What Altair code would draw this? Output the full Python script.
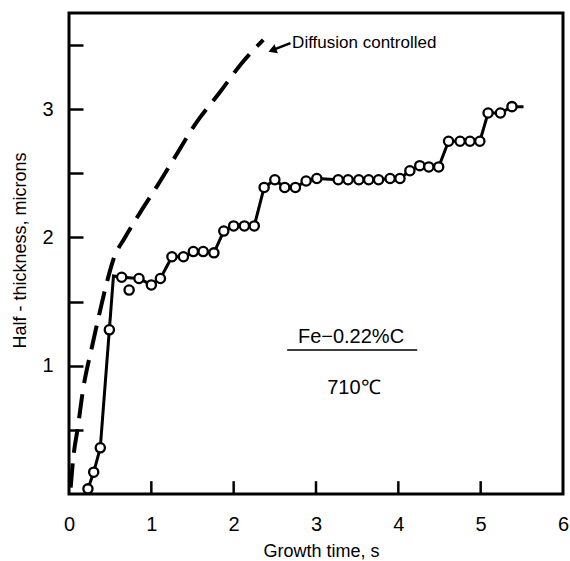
import altair as alt
import pandas as pd

# Measured points (circles)
pts_x = [0.23, 0.30, 0.38, 0.49, 0.64, 0.73, 0.85, 1.00, 1.11, 1.25, 1.39, 1.51, 1.63, 1.76,
         1.88, 2.00, 2.13, 2.25, 2.37, 2.50, 2.62, 2.75, 2.88, 3.01, 3.27, 3.39, 3.52, 3.64,
         3.76, 3.90, 4.02, 4.14, 4.26, 4.37, 4.49, 4.61, 4.75, 4.87, 4.99, 5.09, 5.24, 5.38]
pts_y = [0.04, 0.17, 0.36, 1.28, 1.69, 1.59, 1.68, 1.63, 1.68, 1.85, 1.85, 1.89, 1.89, 1.88,
         2.05, 2.09, 2.09, 2.09, 2.39, 2.45, 2.39, 2.39, 2.44, 2.46, 2.45, 2.45, 2.45, 2.45,
         2.45, 2.46, 2.46, 2.52, 2.56, 2.55, 2.55, 2.75, 2.75, 2.75, 2.75, 2.97, 2.97, 3.02]

# Solid fitted line
line_x = [0.23, 0.30, 0.38, 0.49, 0.54, 0.64, 0.85, 1.00, 1.11, 1.25, 1.39, 1.51, 1.63, 1.76,
          1.88, 2.00, 2.13, 2.25, 2.37, 2.50, 2.62, 2.75, 2.88, 3.01, 3.27, 3.39, 3.52, 3.64,
          3.76, 3.90, 4.02, 4.14, 4.26, 4.37, 4.49, 4.61, 4.75, 4.87, 4.99, 5.09, 5.24, 5.38, 5.52]
line_y = [0.04, 0.17, 0.36, 1.28, 1.70, 1.69, 1.68, 1.63, 1.68, 1.85, 1.85, 1.89, 1.89, 1.88,
          2.05, 2.09, 2.09, 2.09, 2.39, 2.45, 2.39, 2.39, 2.44, 2.46, 2.45, 2.45, 2.45, 2.45,
          2.45, 2.46, 2.46, 2.52, 2.56, 2.55, 2.55, 2.75, 2.75, 2.75, 2.75, 2.97, 2.97, 3.02, 3.02]

# Diffusion controlled (dashed) curve
dash_x = [0.02, 0.05, 0.11, 0.17, 0.28, 0.36, 0.46, 0.54, 0.68, 0.86, 1.07, 1.29, 1.53, 1.83, 2.10, 2.36]
dash_y = [0.05, 0.27, 0.53, 0.81, 1.15, 1.38, 1.65, 1.83, 2.00, 2.19, 2.40, 2.63, 2.88, 3.13, 3.36, 3.54]

# Annotations
label_text = ["Diffusion  controlled", "Fe\u22120.22%C", "710\u2103"]
label_x = [2.71, 3.425, 3.46]
label_y = [3.516, 1.224, 0.83]

y_ticks = [0.5, 1, 1.5, 2, 2.5, 3, 3.5]
x_ticks = [0, 1, 2, 3, 4, 5, 6]
x_inner_ticks = [1, 2, 3, 4, 5]

FONT = "Liberation Sans"

xs = alt.Scale(domain=[0, 6], nice=False, zero=False)
ys = alt.Scale(domain=[0, 3.75], nice=False, zero=False)

x_axis = alt.Axis(
    values=x_ticks, ticks=False, domain=False, grid=False, labelPadding=20,
    labelFontSize=20, labelFont=FONT, labelColor="black", format="d",
    labelFlush=False, labelOverlap=False,
    title="Growth  time, s", titleFont=FONT, titleFontSize=18, titleFontWeight="normal",
    titleColor="black", titleX=252, titleY=57, titleBaseline="middle", titleAlign="center",
)
y_axis = alt.Axis(
    values=y_ticks, offset=-14, tickSize=14, tickWidth=2.5, tickColor="black", ticks=True,
    domain=False, grid=False, labelPadding=16, labelFontSize=20, labelFont=FONT,
    labelColor="black", labelFlush=False, labelOverlap=False, zindex=1,
    labelExpr="datum.value % 1 == 0 ? format(datum.value, 'd') : ''",
    title="Half - thickness, microns", titleFont=FONT, titleFontSize=18,
    titleFontWeight="normal", titleColor="black", titleAngle=270,
    titleX=-63, titleY=237, titleBaseline="middle", titleAlign="center",
)

X = alt.X("x:Q", scale=xs, axis=x_axis)
Y = alt.Y("y:Q", scale=ys, axis=y_axis)

pts_df = pd.DataFrame({"x": pts_x, "y": pts_y})
line_df = pd.DataFrame({"x": line_x, "y": line_y, "o": range(len(line_x))})
dash_df = pd.DataFrame({"x": dash_x, "y": dash_y, "o": range(len(dash_x))})
lab_df = pd.DataFrame({"x": label_x, "y": label_y, "t": label_text})
xt_df = pd.DataFrame({"tx": x_inner_ticks, "ty": [0.0] * 5, "ty2": [0.1] * 5})

xticks_layer = alt.Chart(xt_df).mark_rule(color="black", strokeWidth=2.5).encode(
    x=alt.X("tx:Q", scale=xs, axis=x_axis),
    y=alt.Y("ty:Q", scale=ys, axis=y_axis),
    y2=alt.Y2("ty2:Q"))

dashed = alt.Chart(dash_df).mark_line(
    color="black", strokeWidth=4, strokeDash=[24, 11], interpolate="monotone"
).encode(x=X, y=Y, order="o:Q")

solid = alt.Chart(line_df).mark_line(color="black", strokeWidth=3).encode(x=X, y=Y, order="o:Q")

points = alt.Chart(pts_df).mark_point(
    shape="circle", filled=True, fill="white", stroke="black", strokeWidth=2.3, size=85, opacity=1
).encode(x=X, y=Y)

arrow_df = pd.DataFrame({"x": [2.47], "y": [3.46], "x2": [2.69], "y2": [3.515]})
arrow_line = alt.Chart(arrow_df).mark_rule(color="black", strokeWidth=2.5).encode(
    x=X, y=Y, x2="x2:Q", y2="y2:Q")
arrow_head = alt.Chart(arrow_df).mark_point(
    shape="triangle-left", filled=True, color="black", size=90, angle=339, opacity=1
).encode(x=X, y=Y)

texts_left = alt.Chart(lab_df.iloc[[0]]).mark_text(
    font=FONT, color="black", baseline="middle", align="left", fontSize=17
).encode(x=X, y=Y, text="t:N")
texts_center = alt.Chart(lab_df.iloc[1:]).mark_text(
    font=FONT, color="black", baseline="middle", align="center", fontSize=20
).encode(x=X, y=Y, text="t:N")

ul_df = pd.DataFrame({"x": [2.65], "x2": [4.23], "y": [1.123]})
underline = alt.Chart(ul_df).mark_rule(color="black", strokeWidth=1.5).encode(
    x=X, x2="x2:Q", y=Y)

chart = alt.layer(
    dashed, solid, points, arrow_line, arrow_head,
    texts_left, texts_center, underline, xticks_layer
).properties(
    width=494, height=481,
    padding={"left": 69, "top": 13, "right": 7, "bottom": 67},
    autosize=alt.AutoSizeParams(type="none"),
    background="white",
).configure_view(stroke="black", strokeWidth=3)

chart.save("out.html", embed_options={"renderer": "svg", "actions": False})
